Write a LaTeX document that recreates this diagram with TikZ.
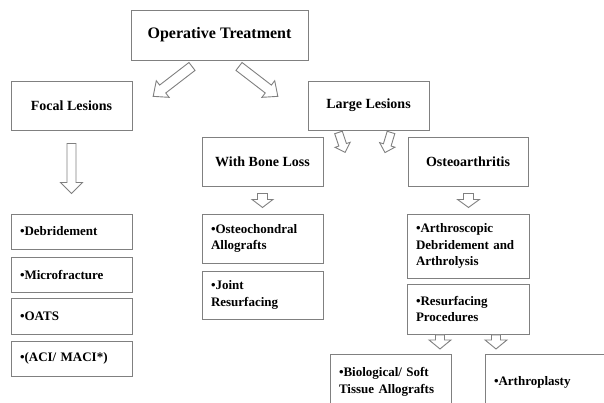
\documentclass[tikz,border=0pt]{standalone}
\usepackage{fontspec}
\setmainfont{Liberation Serif}
\usetikzlibrary{shadows,calc}
\begin{document}
\begin{tikzpicture}[x=1pt,y=-1pt,
  box/.style={draw=black!50, line width=0.9pt, fill=white,
    drop shadow={shadow xshift=1.2pt, shadow yshift=-1.2pt, fill=black!30, opacity=0.5},
    inner sep=0pt},
  head/.style={box, minimum width=121pt, minimum height=49pt,
    font=\fontsize{14}{16}\bfseries\selectfont},
  item/.style={box, text width=103pt, inner xsep=9pt, inner ysep=0pt, align=left,
    font=\fontsize{13}{16.5}\bfseries\selectfont},
  arrowline/.style={draw=black!50, line width=0.9pt, fill=white, line join=miter},
  pics/barrow/.style n args={4}{code={
    \draw[arrowline] (0,{-#2/2}) -- ({#1-#4},{-#2/2}) -- ({#1-#4},{-#3/2}) -- (#1,0)
      -- ({#1-#4},{#3/2}) -- ({#1-#4},{#2/2}) -- (0,{#2/2}) -- cycle;
  }}
]
\useasboundingbox (0,0) rectangle (604,402);
\clip (0,0) rectangle (604,402);

% header boxes
\node[box, minimum width=177pt, minimum height=50pt, font=\fontsize{16}{18}\bfseries\selectfont]
  (op) at (219.5,35) {Operative Treatment};
\node[head] (focal) at (71.5,105.5) {Focal Lesions};
\node[head] (large) at (368.5,105.5) {Large Lesions};
\node[head] (bone) at (262.5,161.5) {With Bone Loss};
\node[head, minimum width=120pt] (osteo) at (468,161.5) {Osteoarthritis};

% left column
\node[item, minimum height=35pt] (deb) at (71.5,231.5) {•Debridement};
\node[item, minimum height=35pt] (micro) at (71.5,274.5) {•Microfracture};
\node[item, minimum height=36pt] (oats) at (71.5,316) {•OATS};
\node[item, minimum height=35pt] (aci) at (71.5,358.5) {•(ACI/ MACI*)};

% middle column
\node[item, minimum height=49pt] (allo) at (262.5,238.5) {•Osteochondral\\Allografts};
\node[item, minimum height=48pt] (joint) at (262.5,295) {•Joint\\Resurfacing};

% right column
\node[item, text width=104pt, minimum height=64pt] (arthro) at (468,246)
  {•Arthroscopic\\Debridement and\\Arthrolysis};
\node[item, text width=104pt, minimum height=50pt] (resurf) at (468,309)
  {•Resurfacing\\Procedures};
\node[item, minimum height=56pt] (bio) at (390.5,382) {•Biological/ Soft\\Tissue Allografts};
\node[item, minimum height=56pt] (arthroplasty) at (545.5,382) {•Arthroplasty};

% block arrows
\pic[rotate=217.6] at ($(op.south)+(-27.5,6)$) {barrow={49}{10}{21}{12}};
\pic[rotate=-37.6] at ($(op.south)+(19.5,6)$) {barrow={49}{10}{21}{12}};
\pic[rotate=-90] at ($(focal.south)+(0,13)$) {barrow={50}{9}{22}{11}};
\pic[rotate=-71.6] at ($(large.south)+(-30,2)$) {barrow={21}{8}{16}{8}};
\pic[rotate=-106.7] at ($(large.south)+(22.5,2)$) {barrow={21}{8}{16}{8}};
\pic[rotate=-90] at ($(bone.south)+(0,7)$) {barrow={14}{10}{21}{8}};
\pic[rotate=-90] at ($(osteo.south)+(0.5,7)$) {barrow={14}{10}{22}{8}};
\pic[rotate=-90] at ($(resurf.south)+(-28,0.5)$) {barrow={14}{9}{22}{9}};
\pic[rotate=-90] at ($(resurf.south)+(28,0.5)$) {barrow={14}{9}{22}{9}};
\end{tikzpicture}
\end{document}
